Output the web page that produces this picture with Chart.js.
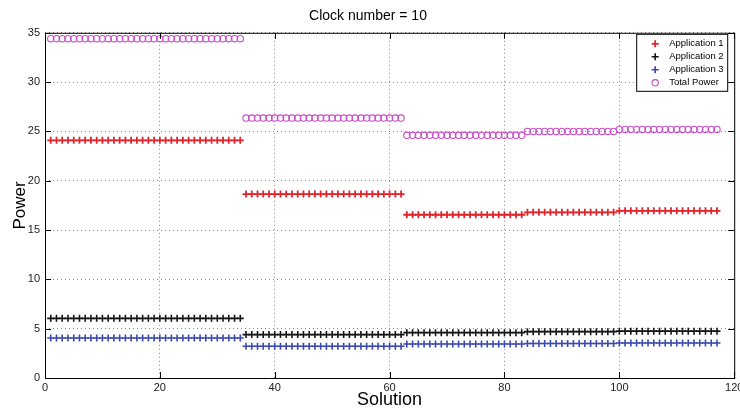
<!DOCTYPE html>
<html>
<head>
<meta charset="utf-8">
<script src="https://cdn.jsdelivr.net/npm/chart.js@4.4.0/dist/chart.umd.min.js"></script>
<style>
    html, body { margin: 0; padding: 0; background: #fff; }
    #wrap { width: 740px; height: 411px; position: relative; }
</style>
</head>
<body>
<div id="wrap"><canvas id="powerChart"></canvas></div>
<script>
// Solution index (x axis)
const solutions = Array.from({ length: 117 }, (_, i) => i + 1);

// Power per solution (5 plateaus: 1-34, 35-62, 63-83, 84-99, 100-117)
const app1Power = [
    24.1, 24.1, 24.1, 24.1, 24.1, 24.1, 24.1, 24.1, 24.1, 24.1, 24.1, 24.1, 24.1, 24.1, 24.1, 24.1, 24.1,
    24.1, 24.1, 24.1, 24.1, 24.1, 24.1, 24.1, 24.1, 24.1, 24.1, 24.1, 24.1, 24.1, 24.1, 24.1, 24.1, 24.1,
    18.65, 18.65, 18.65, 18.65, 18.65, 18.65, 18.65, 18.65, 18.65, 18.65, 18.65, 18.65, 18.65, 18.65,
    18.65, 18.65, 18.65, 18.65, 18.65, 18.65, 18.65, 18.65, 18.65, 18.65, 18.65, 18.65, 18.65, 18.65,
    16.55, 16.55, 16.55, 16.55, 16.55, 16.55, 16.55, 16.55, 16.55, 16.55, 16.55,
    16.55, 16.55, 16.55, 16.55, 16.55, 16.55, 16.55, 16.55, 16.55, 16.55,
    16.8, 16.8, 16.8, 16.8, 16.8, 16.8, 16.8, 16.8, 16.8, 16.8, 16.8, 16.8, 16.8, 16.8, 16.8, 16.8,
    16.95, 16.95, 16.95, 16.95, 16.95, 16.95, 16.95, 16.95, 16.95, 16.95, 16.95, 16.95, 16.95, 16.95, 16.95, 16.95, 16.95, 16.95
];
const app2Power = [
    6.05, 6.05, 6.05, 6.05, 6.05, 6.05, 6.05, 6.05, 6.05, 6.05, 6.05, 6.05, 6.05, 6.05, 6.05, 6.05, 6.05,
    6.05, 6.05, 6.05, 6.05, 6.05, 6.05, 6.05, 6.05, 6.05, 6.05, 6.05, 6.05, 6.05, 6.05, 6.05, 6.05, 6.05,
    4.4, 4.4, 4.4, 4.4, 4.4, 4.4, 4.4, 4.4, 4.4, 4.4, 4.4, 4.4, 4.4, 4.4,
    4.4, 4.4, 4.4, 4.4, 4.4, 4.4, 4.4, 4.4, 4.4, 4.4, 4.4, 4.4, 4.4, 4.4,
    4.6, 4.6, 4.6, 4.6, 4.6, 4.6, 4.6, 4.6, 4.6, 4.6, 4.6,
    4.6, 4.6, 4.6, 4.6, 4.6, 4.6, 4.6, 4.6, 4.6, 4.6,
    4.7, 4.7, 4.7, 4.7, 4.7, 4.7, 4.7, 4.7, 4.7, 4.7, 4.7, 4.7, 4.7, 4.7, 4.7, 4.7,
    4.75, 4.75, 4.75, 4.75, 4.75, 4.75, 4.75, 4.75, 4.75, 4.75, 4.75, 4.75, 4.75, 4.75, 4.75, 4.75, 4.75, 4.75
];
const app3Power = [
    4.05, 4.05, 4.05, 4.05, 4.05, 4.05, 4.05, 4.05, 4.05, 4.05, 4.05, 4.05, 4.05, 4.05, 4.05, 4.05, 4.05,
    4.05, 4.05, 4.05, 4.05, 4.05, 4.05, 4.05, 4.05, 4.05, 4.05, 4.05, 4.05, 4.05, 4.05, 4.05, 4.05, 4.05,
    3.22, 3.22, 3.22, 3.22, 3.22, 3.22, 3.22, 3.22, 3.22, 3.22, 3.22, 3.22, 3.22, 3.22,
    3.22, 3.22, 3.22, 3.22, 3.22, 3.22, 3.22, 3.22, 3.22, 3.22, 3.22, 3.22, 3.22, 3.22,
    3.45, 3.45, 3.45, 3.45, 3.45, 3.45, 3.45, 3.45, 3.45, 3.45, 3.45,
    3.45, 3.45, 3.45, 3.45, 3.45, 3.45, 3.45, 3.45, 3.45, 3.45,
    3.5, 3.5, 3.5, 3.5, 3.5, 3.5, 3.5, 3.5, 3.5, 3.5, 3.5, 3.5, 3.5, 3.5, 3.5, 3.5,
    3.55, 3.55, 3.55, 3.55, 3.55, 3.55, 3.55, 3.55, 3.55, 3.55, 3.55, 3.55, 3.55, 3.55, 3.55, 3.55, 3.55, 3.55
];
const totalPower = [
    34.4, 34.4, 34.4, 34.4, 34.4, 34.4, 34.4, 34.4, 34.4, 34.4, 34.4, 34.4, 34.4, 34.4, 34.4, 34.4, 34.4,
    34.4, 34.4, 34.4, 34.4, 34.4, 34.4, 34.4, 34.4, 34.4, 34.4, 34.4, 34.4, 34.4, 34.4, 34.4, 34.4, 34.4,
    26.35, 26.35, 26.35, 26.35, 26.35, 26.35, 26.35, 26.35, 26.35, 26.35, 26.35, 26.35, 26.35, 26.35,
    26.35, 26.35, 26.35, 26.35, 26.35, 26.35, 26.35, 26.35, 26.35, 26.35, 26.35, 26.35, 26.35, 26.35,
    24.6, 24.6, 24.6, 24.6, 24.6, 24.6, 24.6, 24.6, 24.6, 24.6, 24.6,
    24.6, 24.6, 24.6, 24.6, 24.6, 24.6, 24.6, 24.6, 24.6, 24.6,
    25.0, 25.0, 25.0, 25.0, 25.0, 25.0, 25.0, 25.0, 25.0, 25.0, 25.0, 25.0, 25.0, 25.0, 25.0, 25.0,
    25.2, 25.2, 25.2, 25.2, 25.2, 25.2, 25.2, 25.2, 25.2, 25.2, 25.2, 25.2, 25.2, 25.2, 25.2, 25.2, 25.2, 25.2
];

const seriesLabels = ['Application 1', 'Application 2', 'Application 3', 'Total Power'];
const xTicks = [0, 20, 40, 60, 80, 100, 120];
const yTicks = [0, 5, 10, 15, 20, 25, 30, 35];

const FONT = "'Liberation Sans', Arial, sans-serif";
const NARROW = "'Liberation Sans Narrow', 'Liberation Sans', Arial, sans-serif";

function toPoints(values) {
    return values.map((v, i) => ({ x: solutions[i], y: v }));
}

// Box around the axes, inward ticks on all four sides, legend inside the plot
const matlabFrame = {
    id: 'matlabFrame',
    afterDraw(chart) {
        const ctx = chart.ctx;
        const a = chart.chartArea;
        const xs = chart.scales.x;
        const ys = chart.scales.y;
        ctx.save();
        ctx.strokeStyle = '#000';
        ctx.lineWidth = 1;
        ctx.strokeRect(a.left + 0.5, a.top + 0.5, a.right - a.left, a.bottom - a.top);

        ctx.beginPath();
        xTicks.forEach(t => {
            const px = Math.round(xs.getPixelForValue(t)) + 0.5;
            ctx.moveTo(px, a.bottom); ctx.lineTo(px, a.bottom - 6);
            ctx.moveTo(px, a.top); ctx.lineTo(px, a.top + 6);
        });
        yTicks.forEach(t => {
            const py = Math.round(ys.getPixelForValue(t)) + 0.5;
            ctx.moveTo(a.left, py); ctx.lineTo(a.left + 6, py);
            ctx.moveTo(a.right, py); ctx.lineTo(a.right - 6, py);
        });
        ctx.stroke();

        // legend
        const lx = a.right - 98, ly = a.top + 1, lw = 91, lh = 57;
        ctx.fillStyle = '#fff';
        ctx.fillRect(lx, ly, lw, lh);
        ctx.strokeStyle = '#000';
        ctx.strokeRect(lx + 0.5, ly + 0.5, lw, lh);
        ctx.font = '9.5px ' + FONT;
        ctx.textBaseline = 'middle';
        chart.data.datasets.forEach((ds, i) => {
            const cy = ly + 10 + i * 13;
            const mx = lx + 19;
            ctx.strokeStyle = ds.pointBorderColor;
            ctx.lineWidth = ds.pointBorderWidth;
            ctx.beginPath();
            if (ds.pointStyle === 'circle') {
                ctx.arc(mx, cy, ds.pointRadius, 0, Math.PI * 2);
            } else {
                ctx.moveTo(mx - ds.pointRadius, cy); ctx.lineTo(mx + ds.pointRadius, cy);
                ctx.moveTo(mx, cy - ds.pointRadius); ctx.lineTo(mx, cy + ds.pointRadius);
            }
            ctx.stroke();
            ctx.fillStyle = '#000';
            ctx.fillText(ds.label, lx + 33, cy);
        });
        ctx.restore();
    }
};

const powerCtx = document.getElementById('powerChart').getContext('2d');
const powerChart = new Chart(powerCtx, {
    type: 'scatter',
    data: {
        datasets: [
            {
                label: seriesLabels[0],
                data: toPoints(app1Power),
                pointStyle: 'cross',
                pointRadius: 3.5,
                pointBorderWidth: 1.8,
                pointBorderColor: '#e0242c',
                pointBackgroundColor: '#e0242c'
            },
            {
                label: seriesLabels[1],
                data: toPoints(app2Power),
                pointStyle: 'cross',
                pointRadius: 3.5,
                pointBorderWidth: 1.6,
                pointBorderColor: '#151515',
                pointBackgroundColor: '#151515'
            },
            {
                label: seriesLabels[2],
                data: toPoints(app3Power),
                pointStyle: 'cross',
                pointRadius: 3.5,
                pointBorderWidth: 1.6,
                pointBorderColor: '#3a48b0',
                pointBackgroundColor: '#3a48b0'
            },
            {
                label: seriesLabels[3],
                data: toPoints(totalPower),
                pointStyle: 'circle',
                pointRadius: 3.2,
                pointBorderWidth: 1.1,
                pointBorderColor: '#c850c8',
                pointBackgroundColor: 'rgba(0,0,0,0)'
            }
        ]
    },
    options: {
        responsive: true,
        maintainAspectRatio: false,
        animation: false,
        layout: { padding: { left: 0, right: 4, top: 0, bottom: 0 } },
        scales: {
            x: {
                type: 'linear',
                min: 0,
                max: 120,
                afterFit: s => { s.height = 33; s.paddingRight = 0; s.paddingLeft = 0; },
                afterBuildTicks: s => { s.ticks = xTicks.map(v => ({ value: v })); },
                grid: { color: '#8a8a8a', lineWidth: 1, drawTicks: false },
                border: { display: false, dash: [1, 3] },
                ticks: { color: '#222', font: { family: NARROW, size: 11 }, padding: 3, maxRotation: 0 },
                title: { display: true, text: 'Solution', color: '#000', font: { family: FONT, size: 18 }, padding: { top: -1, bottom: 0 } }
            },
            y: {
                min: 0,
                max: 35,
                afterFit: s => { s.width = 45; },
                afterBuildTicks: s => { s.ticks = yTicks.map(v => ({ value: v })); },
                grid: { color: '#8a8a8a', lineWidth: 1, drawTicks: false },
                border: { display: false, dash: [1, 3] },
                ticks: { color: '#222', font: { family: NARROW, size: 11 }, padding: 5 },
                title: { display: true, text: 'Power', color: '#000', font: { family: FONT, size: 17 }, padding: { top: 10, bottom: 0 } }
            }
        },
        plugins: {
            legend: { display: false },
            tooltip: { enabled: false },
            title: {
                display: true,
                text: 'Clock number = 10',
                color: '#000',
                font: { family: FONT, size: 14, weight: 'normal' },
                padding: { top: 8, bottom: 8 }
            }
        }
    },
    plugins: [matlabFrame]
});
</script>
</body>
</html>
